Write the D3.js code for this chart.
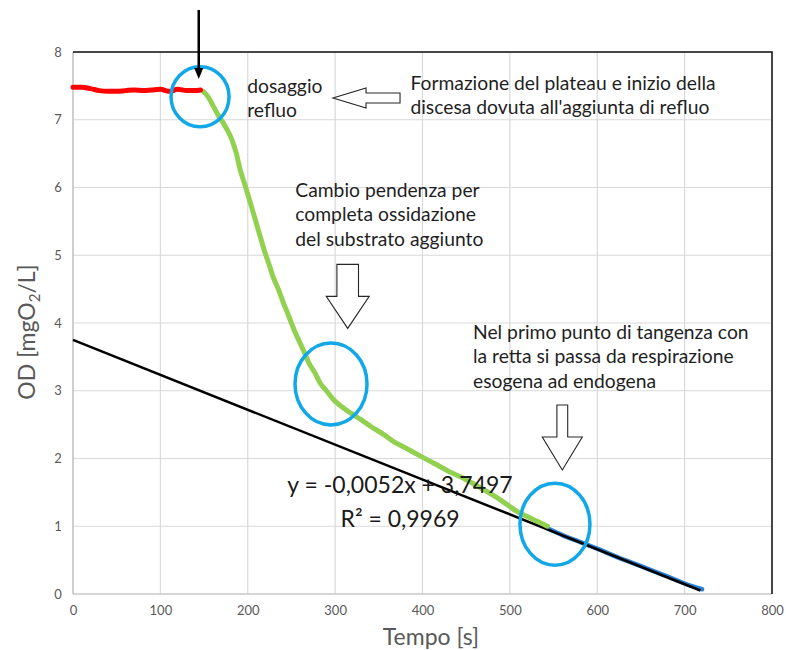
<!DOCTYPE html>
<html>
<head>
<meta charset="utf-8">
<script src="https://cdn.jsdelivr.net/npm/d3@7"></script>
<style>
  body { margin: 0; background: #fff; }
  svg { display: block; font-family: Lato, "Open Sans", sans-serif; }
</style>
</head>
<body>
<svg id="chart" width="786" height="650"></svg>
<script>
// plateau before dosing (red)
const redX = [0, 10, 20, 30, 40, 50, 60, 70, 80, 90, 100, 110, 120, 130, 140, 146];
const redY = [7.48, 7.48, 7.46, 7.43, 7.42, 7.42, 7.43, 7.44, 7.43, 7.44, 7.45, 7.42, 7.45, 7.43, 7.43, 7.44];

// exogenous respiration (green)
const greenX = [149, 155, 161, 167, 172, 177, 182, 187, 191, 196, 201, 206, 211, 216, 220, 225, 229, 235, 241, 247, 253, 260, 265, 270, 277, 283, 290, 298, 308, 318, 330, 340, 355, 367, 380, 394, 413, 430, 451, 470, 489, 508, 525, 543];
const greenY = [7.42, 7.33, 7.19, 7.05, 6.95, 6.84, 6.70, 6.50, 6.28, 6.07, 5.86, 5.64, 5.42, 5.20, 5.03, 4.84, 4.68, 4.50, 4.29, 4.10, 3.90, 3.70, 3.56, 3.41, 3.26, 3.11, 3.00, 2.87, 2.76, 2.67, 2.57, 2.48, 2.36, 2.25, 2.16, 2.06, 1.93, 1.81, 1.68, 1.54, 1.39, 1.22, 1.11, 1.00];

// endogenous respiration (blue)
const blueX = [543, 560, 580, 600, 620, 640, 660, 680, 700, 720];
const blueY = [0.97, 0.87, 0.77, 0.67, 0.56, 0.46, 0.36, 0.26, 0.155, 0.07];

// linear trendline (label shows rounded coefficients)
const trendSlope = -0.00515;
const trendIntercept = 3.7497;
const trendRange = [0, 718];
const trendLabel = ['y = -0,0052x + 3,7497', 'R² = 0,9969'];

const xTicks = [0, 100, 200, 300, 400, 500, 600, 700, 800];
const yTicks = [0, 1, 2, 3, 4, 5, 6, 7, 8];

const notes = [
  { x: 199.4, y: 7.40, lines: ['dosaggio', 'refluo'] },
  { x: 386.2, y: 7.44, lines: ['Formazione del plateau e inizio della', "discesa dovuta all'aggiunta di refluo"] },
  { x: 254.4, y: 5.86, lines: ['Cambio pendenza per', 'completa ossidazione', 'del substrato aggiunto'] },
  { x: 457.8, y: 3.77, lines: ['Nel primo punto di tangenza con', 'la retta si passa da respirazione', 'esogena ad endogena'] }
];
const rings = [
  { x: 145.4, y: 7.34, rx: 29, ry: 30 },
  { x: 295.3, y: 3.10, rx: 36, ry: 41 },
  { x: 551.6, y: 1.03, rx: 35, ry: 41 }
];
// hollow block arrows: tip position, direction
const blockArrows = [
  { x: 297.6, y: 7.32, dir: 'left', head: 33, headHalf: 10, shaftHalf: 5, shaft: 34 },
  { x: 314.4, y: 3.92, dir: 'down', head: 32, headHalf: 21.5, shaftHalf: 10.8, shaft: 32 },
  { x: 560.0, y: 1.83, dir: 'down', head: 33, headHalf: 20, shaftHalf: 5.4, shaft: 32 }
];
const dosingArrow = { x: 143.9, yTop: 8.62, yTip: 7.60 };

const margin = { top: 52, right: 14, bottom: 56, left: 73 };
const svg = d3.select('#chart');
const width = +svg.attr('width');
const height = +svg.attr('height');

const x = d3.scaleLinear().domain([0, 800]).range([margin.left, width - margin.right]);
const y = d3.scaleLinear().domain([0, 8]).range([height - margin.bottom, margin.top]);

// grid
svg.append('g')
  .selectAll('line')
  .data(xTicks)
  .join('line')
  .attr('x1', d => x(d)).attr('x2', d => x(d))
  .attr('y1', y(0)).attr('y2', y(8))
  .attr('stroke', '#d9d9d9').attr('stroke-width', 1.2);
svg.append('g')
  .selectAll('line')
  .data(yTicks)
  .join('line')
  .attr('x1', x(0)).attr('x2', x(800))
  .attr('y1', d => y(d)).attr('y2', d => y(d))
  .attr('stroke', '#d9d9d9').attr('stroke-width', 1.2);

// axis lines
svg.append('line')
  .attr('x1', x(0)).attr('x2', x(0)).attr('y1', y(0)).attr('y2', y(8))
  .attr('stroke', '#bfbfbf').attr('stroke-width', 1.2);
svg.append('line')
  .attr('x1', x(0)).attr('x2', x(800)).attr('y1', y(0)).attr('y2', y(0))
  .attr('stroke', '#bfbfbf').attr('stroke-width', 1.2);
svg.append('path')
  .attr('d', `M${x(0)},${y(8)}H${x(800)}V${y(0)}`)
  .attr('fill', 'none').attr('stroke', '#111').attr('stroke-width', 1.5);

// tick labels
const xAxis = svg.append('g')
  .attr('transform', `translate(0,${y(0)})`)
  .call(d3.axisBottom(x).tickValues(xTicks).tickSize(0).tickPadding(12));
const yAxis = svg.append('g')
  .attr('transform', `translate(${x(0)},0)`)
  .call(d3.axisLeft(y).tickValues(yTicks).tickSize(0).tickPadding(15));
[xAxis, yAxis].forEach(g => {
  g.select('.domain').remove();
  g.selectAll('text').attr('fill', '#595959').attr('font-size', 13).attr('font-family', 'Lato, sans-serif');
});
yAxis.selectAll('text').attr('text-anchor', 'middle');

// axis titles
svg.append('text')
  .attr('x', 431).attr('y', 645)
  .attr('text-anchor', 'middle')
  .attr('fill', '#595959').attr('font-size', 23)
  .text('Tempo [s]');
const yTitle = svg.append('text')
  .attr('transform', 'translate(35,332) rotate(-90)')
  .attr('text-anchor', 'middle')
  .attr('fill', '#595959').attr('font-size', 23);
yTitle.append('tspan').text('OD [mgO');
yTitle.append('tspan').attr('font-size', 15).attr('dy', 5).text('2');
yTitle.append('tspan').attr('dy', -5).text('/L]');

const line = d3.line().x(d => x(d[0])).y(d => y(d[1])).curve(d3.curveMonotoneX);

// blue under the trendline
svg.append('path')
  .datum(d3.zip(blueX, blueY))
  .attr('d', line)
  .attr('fill', 'none').attr('stroke', '#2a7fd4').attr('stroke-width', 4.5)
  .attr('stroke-linecap', 'round');

svg.append('line')
  .attr('x1', x(trendRange[0])).attr('y1', y(trendIntercept + trendSlope * trendRange[0]))
  .attr('x2', x(trendRange[1])).attr('y2', y(trendIntercept + trendSlope * trendRange[1]))
  .attr('stroke', '#000').attr('stroke-width', 2.5);

svg.append('path')
  .datum(d3.zip(greenX, greenY))
  .attr('d', line)
  .attr('fill', 'none').attr('stroke', '#92d050').attr('stroke-width', 5)
  .attr('stroke-linecap', 'round');

svg.append('path')
  .datum(d3.zip(redX, redY))
  .attr('d', line)
  .attr('fill', 'none').attr('stroke', '#ff0000').attr('stroke-width', 5)
  .attr('stroke-linecap', 'round');

// trendline label
svg.append('text')
  .attr('x', x(374.3)).attr('y', y(1.49))
  .attr('text-anchor', 'middle')
  .attr('fill', '#1a1a1a').attr('font-size', 23)
  .selectAll('tspan')
  .data(trendLabel)
  .join('tspan')
  .attr('x', x(374.3))
  .attr('dy', (d, i) => i ? 33.5 : 0)
  .text(d => d);

// rings
svg.append('g')
  .selectAll('ellipse')
  .data(rings)
  .join('ellipse')
  .attr('cx', d => x(d.x)).attr('cy', d => y(d.y))
  .attr('rx', d => d.rx).attr('ry', d => d.ry)
  .attr('fill', 'none').attr('stroke', '#12a8e8').attr('stroke-width', 3.5);

// dosing arrow
svg.append('line')
  .attr('x1', x(dosingArrow.x)).attr('x2', x(dosingArrow.x))
  .attr('y1', y(dosingArrow.yTop)).attr('y2', y(dosingArrow.yTip) - 8)
  .attr('stroke', '#000').attr('stroke-width', 2.5);
svg.append('path')
  .attr('d', () => {
    const tx = x(dosingArrow.x), ty = y(dosingArrow.yTip);
    return `M${tx - 4.5},${ty - 11}L${tx + 4.5},${ty - 11}L${tx},${ty}Z`;
  })
  .attr('fill', '#000');

// hollow arrows
function blockArrow(d) {
  const tx = x(d.x), ty = y(d.y);
  if (d.dir === 'down') {
    const b = ty - d.head, t = b - d.shaft;
    return `M${tx - d.shaftHalf},${t}H${tx + d.shaftHalf}V${b}H${tx + d.headHalf}L${tx},${ty}L${tx - d.headHalf},${b}H${tx - d.shaftHalf}Z`;
  }
  const b = tx + d.head, e = b + d.shaft;
  return `M${e},${ty - d.shaftHalf}V${ty + d.shaftHalf}H${b}V${ty + d.headHalf}L${tx},${ty}L${b},${ty - d.headHalf}V${ty - d.shaftHalf}Z`;
}
svg.append('g')
  .selectAll('path')
  .data(blockArrows)
  .join('path')
  .attr('d', blockArrow)
  .attr('fill', '#fff').attr('stroke', '#262626').attr('stroke-width', 1.1);

// notes
svg.append('g')
  .selectAll('text')
  .data(notes)
  .join('text')
  .attr('x', d => x(d.x)).attr('y', d => y(d.y))
  .attr('fill', '#1f1f1f').attr('font-size', 19.3)
  .each(function (d) {
    d3.select(this).selectAll('tspan')
      .data(d.lines)
      .join('tspan')
      .attr('x', x(d.x))
      .attr('dy', (t, i) => i ? 24.5 : 0)
      .text(t => t);
  });
</script>
</body>
</html>
